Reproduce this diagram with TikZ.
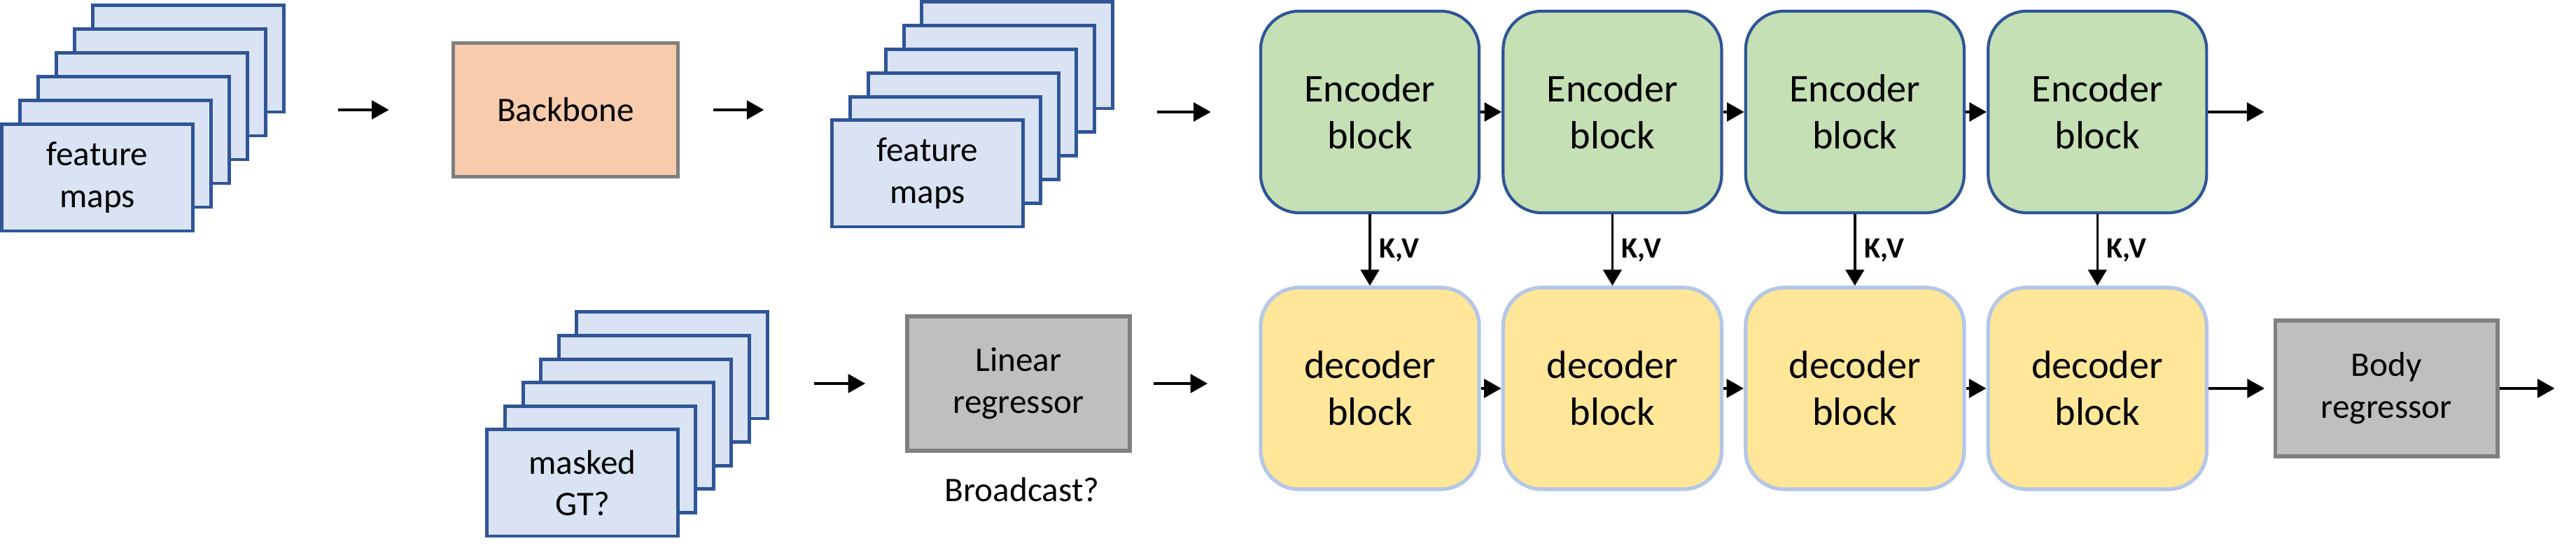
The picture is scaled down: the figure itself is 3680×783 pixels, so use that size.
\documentclass[tikz,border=0pt]{standalone}
\usepackage{fontspec}
\setmainfont{Carlito}
\usepackage{tikz}
\usetikzlibrary{positioning}
\usetikzlibrary{arrows.meta}
\definecolor{mapfill}{HTML}{DAE3F3}
\definecolor{mapline}{HTML}{2F5597}
\definecolor{encfill}{HTML}{C5E0B4}
\definecolor{decfill}{HTML}{FFE699}
\definecolor{decline}{HTML}{B4C7E7}
\definecolor{bbfill}{HTML}{F8CBAD}
\definecolor{regfill}{HTML}{BFBFBF}
\definecolor{regline}{HTML}{7F7F7F}
\tikzstyle{arrow} = [line width=1.3pt,-{Triangle[length=7pt,width=7.5pt]}]
\tikzstyle{kvarrow} = [line width=1pt,-{Triangle[length=6.5pt,width=7.5pt]}]
\tikzstyle{fmap} = [draw=mapline, fill=mapfill, line width=1.4pt, minimum width=2.72cm, minimum height=1.52cm, inner sep=0pt, align=center, font=\fontsize{14}{17}\selectfont]
\tikzstyle{regbox} = [draw=regline, line width=1.5pt, minimum width=3.18cm, minimum height=1.92cm, inner sep=0pt, align=center, font=\fontsize{14}{17}\selectfont]
\tikzset{
  encblock/.style={draw=mapline, fill=encfill, line width=1.2pt, rounded corners=0.55cm, minimum width=3.12cm, minimum height=2.88cm, inner sep=0pt, align=center, font=\fontsize{16}{19}\selectfont},
  decblock/.style={encblock, draw=decline, fill=decfill, line width=1.5pt}
}

\begin{document}
\begin{tikzpicture}[x=0.01cm, y=0.01cm]
\useasboundingbox (0,0) rectangle (3680,783);

% stacks of maps
\foreach \i in {5,4,...,1}
  \node[fmap] (fmA\i) at (139+26*\i, 529+34*\i) {};
\node[fmap] (fmA0) at (139,529) {feature\\maps};

\foreach \i in {5,4,...,1}
  \node[fmap] (fmB\i) at (1325+25.6*\i, 535+33.8*\i) {};
\node[fmap] (fmB0) at (1325,535) {feature\\maps};

\foreach \i in {5,4,...,1}
  \node[fmap] (fmC\i) at (832+25.6*\i, 93+33.6*\i) {};
\node[fmap] (fmC0) at (832,93) {masked\\GT?};

% boxes
\node[regbox, fill=bbfill, minimum width=3.21cm, minimum height=1.91cm] (bb) at (808,626) {Backbone};
\node[regbox, fill=regfill] (lin) at (1455,235) {Linear\\regressor};
\node[font=\fontsize{14}{17}\selectfont] (bcast) at (1460,83) {Broadcast?};

\node[encblock] (E1) at (1957,623) {Encoder\\block};
\node[encblock, right=0.3cm of E1] (E2) {Encoder\\block};
\node[encblock, right=0.3cm of E2] (E3) {Encoder\\block};
\node[encblock, right=0.3cm of E3] (E4) {Encoder\\block};

\node[decblock, below=1.02cm of E1] (D1) {decoder\\block};
\node[decblock, below=1.02cm of E2] (D2) {decoder\\block};
\node[decblock, below=1.02cm of E3] (D3) {decoder\\block};
\node[decblock, below=1.02cm of E4] (D4) {decoder\\block};

\node[regbox, fill=regfill, minimum width=3.17cm, minimum height=1.94cm, right=0.93cm of D4] (body) {Body\\regressor};

\coordinate[right=0.8cm of E4.east] (e4out);
\coordinate[right=0.79cm of body.east] (bout);

% arrows
\draw[arrow, shorten <=0.75cm, shorten >=0.89cm] (fmA5.east |- bb.west) -- (bb.west);
\draw[arrow, shorten <=0.48cm, shorten >=0.95cm] (bb.east) -- (fmB0.west |- bb.east);
\draw[arrow, shorten <=0.61cm, shorten >=0.69cm] (fmB5.east |- E1.west) -- (E1.west);
\draw[arrow, shorten <=0.64cm, shorten >=0.57cm] (fmC5.east |- lin.west) -- (lin.west);
\draw[arrow, shorten <=0.31cm, shorten >=0.73cm] (lin.east) -- (lin.east -| D1.west);

\foreach \a/\b in {1/2,2/3,3/4} {
  \draw[arrow] (E\a.east) -- (E\b.west);
  \draw[arrow] (D\a.east) -- (D\b.west);
}
\foreach \i in {1,...,4}
  \draw[kvarrow] (E\i.south) -- node[right, font=\fontsize{12}{14}\selectfont\bfseries] {K,V} (D\i.north);

\draw[arrow] (E4.east) -- (e4out);
\draw[arrow, shorten >=0.13cm] (D4.east) -- (body.west);
\draw[arrow] (body.east) -- (bout);
\end{tikzpicture}
\end{document}
